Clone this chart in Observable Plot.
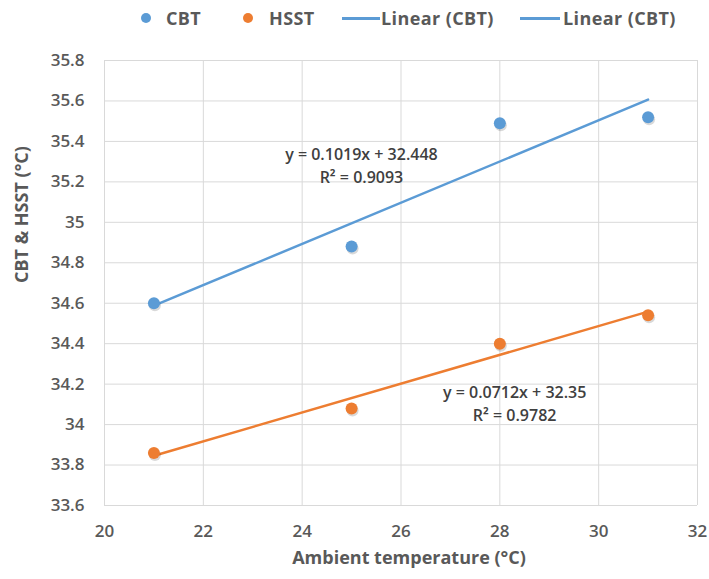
<!DOCTYPE html>
<html>
<head>
<meta charset="utf-8">
<script src="https://cdn.jsdelivr.net/npm/d3@7"></script>
<script src="https://cdn.jsdelivr.net/npm/@observablehq/plot@0.6"></script>
<style>
  body { margin: 0; background: #fff; font-family: "Open Sans", sans-serif; }
  #wrap { width: 709px; height: 579px; position: relative; }
  #legend { position: relative; height: 40px; width: 709px; font-weight: 700; font-size: 18px; letter-spacing: 0.4px; color: #595959; }
  #legend .mk, #legend .tx { position: absolute; }
  #legend .tx { top: 5px; line-height: 26px; white-space: nowrap; }
  #legend .dot { top: 13px; width: 10px; height: 10px; border-radius: 50%; }
  #legend .ln { top: 17px; height: 2.5px; }
</style>
</head>
<body>
<div id="wrap">
  <div id="legend"></div>
  <div id="chart"></div>
</div>
<script>
const ambient = [21, 25, 28, 31];
const cbt = [34.60, 34.88, 35.49, 35.52];
const hsst = [33.86, 34.08, 34.40, 34.54];
const xTicks = [20, 22, 24, 26, 28, 30, 32];
const yTicks = [33.6, 33.8, 34, 34.2, 34.4, 34.6, 34.8, 35, 35.2, 35.4, 35.6, 35.8];
const seriesNames = ["CBT", "HSST"];
const legendLabels = ["CBT", "HSST", "Linear (CBT)", "Linear (CBT)"];
const colors = ["#5B9BD5", "#ED7D31"];
const equations = ["y = 0.1019x + 32.448\nR² = 0.9093", "y = 0.0712x + 32.35\nR² = 0.9782"];
const eqX = [25.2, 28.3];
const eqY = [35.39, 34.213];

const data = [];
ambient.forEach((a, i) => {
  data.push({x: a, y: cbt[i], s: seriesNames[0]});
  data.push({x: a, y: hsst[i], s: seriesNames[1]});
});
const eqs = equations.map((t, i) => ({x: eqX[i], y: eqY[i], t}));

// legend layout
const legend = document.getElementById("legend");
const markLeft = [141, 243, 342, 520];
const markWidth = [10, 10, 38, 40];
const textLeft = [166, 269, 381, 563];
legendLabels.forEach((lab, i) => {
  const m = document.createElement("div");
  m.className = "mk " + (i < 2 ? "dot" : "ln");
  m.style.left = markLeft[i] + "px";
  m.style.width = markWidth[i] + "px";
  m.style.background = i < 2 ? colors[i] : colors[0];
  legend.appendChild(m);
  const t = document.createElement("div");
  t.className = "tx";
  t.style.left = textLeft[i] + "px";
  t.textContent = lab;
  legend.appendChild(t);
});

const fmt = d => String(+d.toFixed(1));
const chart = Plot.plot({
  width: 709,
  height: 539,
  marginLeft: 104,
  marginRight: 12,
  marginTop: 20,
  marginBottom: 74,
  style: { fontFamily: "'Open Sans', sans-serif", fontSize: "16px", color: "#595959", background: "#fff" },
  x: { domain: [20, 32], label: null },
  y: { domain: [33.6, 35.8], label: null },
  color: { domain: seriesNames, range: colors },
  marks: [
    Plot.gridX(xTicks, { stroke: "#D9D9D9", strokeOpacity: 1, strokeWidth: 1 }),
    Plot.gridY(yTicks, { stroke: "#D9D9D9", strokeOpacity: 1, strokeWidth: 1 }),
    Plot.axisX({ ticks: xTicks, tickSize: 0, tickPadding: 19, fontSize: 17, fontWeight: 600, fill: "#595959", label: null }),
    Plot.axisY({ ticks: yTicks, tickSize: 0, tickPadding: 20, fontSize: 17, fontWeight: 600, fill: "#595959", tickFormat: fmt, label: null }),
    Plot.linearRegressionY(data, { x: "x", y: "y", stroke: "s", ci: 0, strokeWidth: 2.5 }),
    Plot.dot(data, { x: "x", y: "y", r: 6, fill: "#000", fillOpacity: 0.15, dx: 1, dy: 2 }),
    Plot.dot(data, { x: "x", y: "y", fill: "s", r: 6 }),
    Plot.text(eqs, { x: "x", y: "y", text: "t", fontSize: 16, fill: "#404040", lineHeight: 1.45, lineAnchor: "top", fontWeight: 600 }),
    Plot.text(["Ambient temperature (°C)"], { frameAnchor: "bottom", dy: 58, dx: 8, text: d => d, fontSize: 18, fontWeight: "bold", fill: "#595959" }),
    Plot.text(["CBT & HSST (°C)"], { frameAnchor: "left", dx: -82, rotate: -90, text: d => d, fontSize: 18, fontWeight: "bold", fill: "#595959" })
  ]
});
document.getElementById("chart").appendChild(chart);
</script>
</body>
</html>
